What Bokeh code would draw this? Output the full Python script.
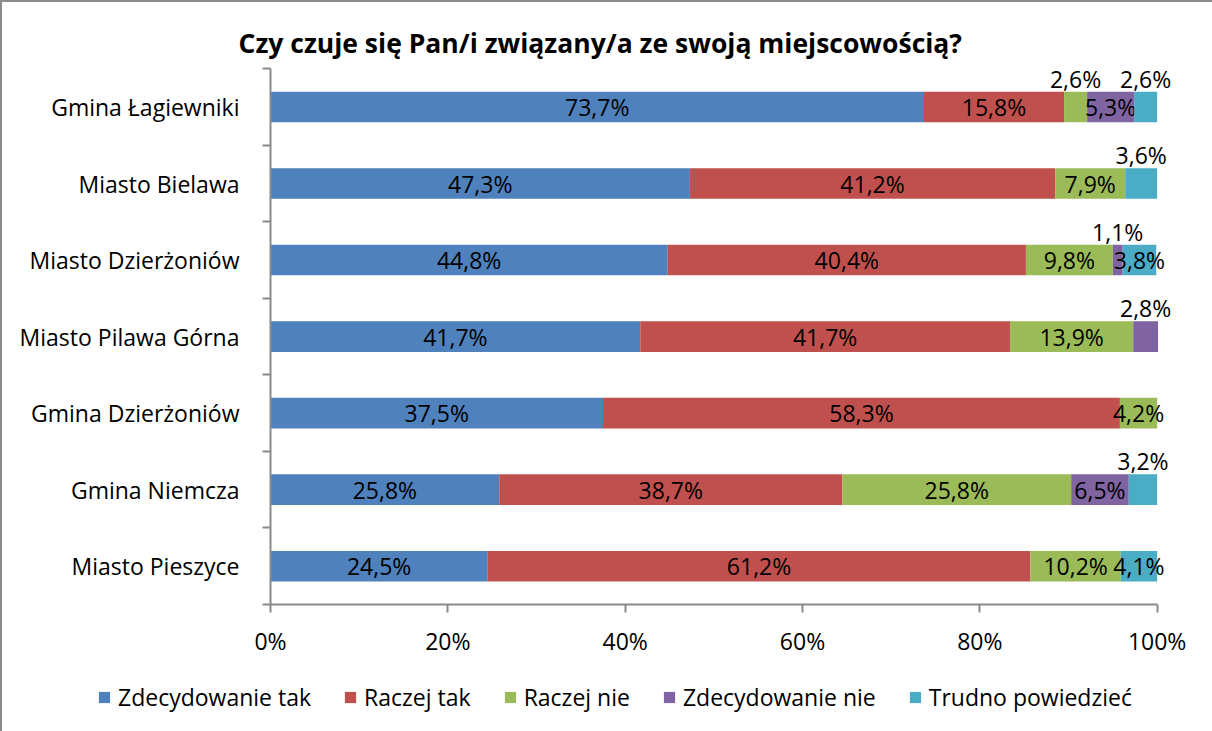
from bokeh.plotting import figure
from bokeh.models import (ColumnDataSource, Range1d, FixedTicker, PrintfTickFormatter,
                          Legend, LegendItem, Title)
from bokeh.core.properties import value
from bokeh.embed import file_html
from bokeh.resources import INLINE

categories = ["Gmina Łagiewniki", "Miasto Bielawa", "Miasto Dzierżoniów",
              "Miasto Pilawa Górna", "Gmina Dzierżoniów", "Gmina Niemcza", "Miasto Pieszyce"]
series_names = ["Zdecydowanie tak", "Raczej tak", "Raczej nie", "Zdecydowanie nie", "Trudno powiedzieć"]
zdecydowanie_tak = [73.7, 47.3, 44.8, 41.7, 37.5, 25.8, 24.5]
raczej_tak = [15.8, 41.2, 40.4, 41.7, 58.3, 38.7, 61.2]
raczej_nie = [2.6, 7.9, 9.8, 13.9, 4.2, 25.8, 10.2]
zdecydowanie_nie = [5.3, 0.0, 1.1, 2.8, 0.0, 6.5, 0.0]
trudno_powiedziec = [2.6, 3.6, 3.8, 0.0, 0.0, 3.2, 4.1]
x_ticks = [0, 20, 40, 60, 80, 100]

series = [zdecydowanie_tak, raczej_tak, raczej_nie, zdecydowanie_nie, trudno_powiedziec]
colors = ["#4F81BD", "#C0504D", "#9BBB59", "#8064A2", "#4BACC6"]

FONT = "Open Sans"
FS = "23px"
n = len(categories)
ypos = [n - 1 - i for i in range(n)]

p = figure(width=1212, height=660, output_backend="svg", toolbar_location=None,
           x_range=Range1d(0, 105), y_range=Range1d(-0.5, n - 0.38),
           min_border_left=270, min_border_right=11, min_border_top=59, min_border_bottom=56)
p.outline_line_color = None
p.grid.visible = False
p.background_fill_color = "white"
p.border_fill_color = None
p.styles = {"box-shadow": "inset 2px 2px 0 0 #8c8c8c", "background": "white"}

left = [0.0] * n
for name, vals, col in zip(series_names, series, colors):
    right = [l + v for l, v in zip(left, vals)]
    src = ColumnDataSource(dict(y=ypos, left=left, right=right))
    p.hbar(y="y", left="left", right="right", height=0.4, source=src,
           fill_color=col, line_color=None)
    lx, ly, lt = [], [], []
    for i, v in enumerate(vals):
        if v <= 0:
            continue
        lx.append((left[i] + right[i]) / 2)
        ly.append(ypos[i] + (0.37 if v < 3.7 else 0))
        lt.append(("%.1f%%" % v).replace(".", ","))
    p.text(x=lx, y=ly, text=lt, text_align="center", text_baseline="middle",
           text_font=value(FONT), text_font_size=FS, text_color="black")
    left = right

xa = p.xaxis[0]
xa.bounds = (0, 100)
xa.ticker = FixedTicker(ticks=x_ticks)
xa.formatter = PrintfTickFormatter(format="%d%%")
xa.major_tick_out = 8
xa.major_tick_in = 0
xa.minor_tick_out = 0
xa.minor_tick_in = 0
xa.axis_line_color = "#8a8a8a"
xa.axis_line_width = 2
xa.major_tick_line_color = "#8a8a8a"
xa.major_tick_line_width = 2
xa.major_label_text_font = FONT
xa.major_label_text_font_size = FS
xa.major_label_text_color = "black"
xa.major_label_standoff = 12

ya = p.yaxis[0]
ya.bounds = (-0.5, n - 0.5)
ya.ticker = FixedTicker(ticks=ypos, minor_ticks=[k - 0.5 for k in range(n + 1)])
ya.major_label_overrides = {ypos[i]: categories[i] for i in range(n)}
ya.major_tick_out = 0
ya.major_tick_in = 0
ya.minor_tick_out = 8
ya.minor_tick_in = 0
ya.minor_tick_line_color = "#8a8a8a"
ya.minor_tick_line_width = 2
ya.axis_line_color = "#8a8a8a"
ya.axis_line_width = 2
ya.major_label_text_font = FONT
ya.major_label_text_font_size = FS
ya.major_label_text_color = "black"
ya.major_label_standoff = 23

p.title = Title(text="Czy czuje się Pan/i związany/a ze swoją miejscowością?",
                align="left", offset=-32, standoff=-3, text_font=FONT, text_font_size="26.5px",
                text_font_style="bold", text_color="black")

# legend figure (separate root, no frame alignment)
lg = figure(width=1212, height=71, output_backend="svg", toolbar_location=None,
            x_range=Range1d(0, 1), y_range=Range1d(0, 1),
            min_border_left=0, min_border_right=0, min_border_top=0, min_border_bottom=0)
lg.axis.visible = False
lg.grid.visible = False
lg.outline_line_color = None
lg.background_fill_color = None
lg.border_fill_color = None
lg.styles = {"box-shadow": "inset 2px 0 0 0 #8c8c8c", "background": "white"}
items = []
for name, col in zip(series_names, colors):
    r = lg.hbar(y=[-5], left=[0], right=[1], height=0.4, fill_color=col, line_color=None)
    items.append(LegendItem(label=name, renderers=[r]))
legend = Legend(items=items, orientation="horizontal", location=(97, 18),
                label_text_font=FONT, label_text_font_size=FS, label_text_color="black",
                glyph_width=14, glyph_height=14, label_standoff=7, spacing=32,
                padding=0, margin=0, border_line_color=None, background_fill_alpha=0)
lg.add_layout(legend, "center")

open("out.html", "w").write(file_html([p, lg], INLINE))
